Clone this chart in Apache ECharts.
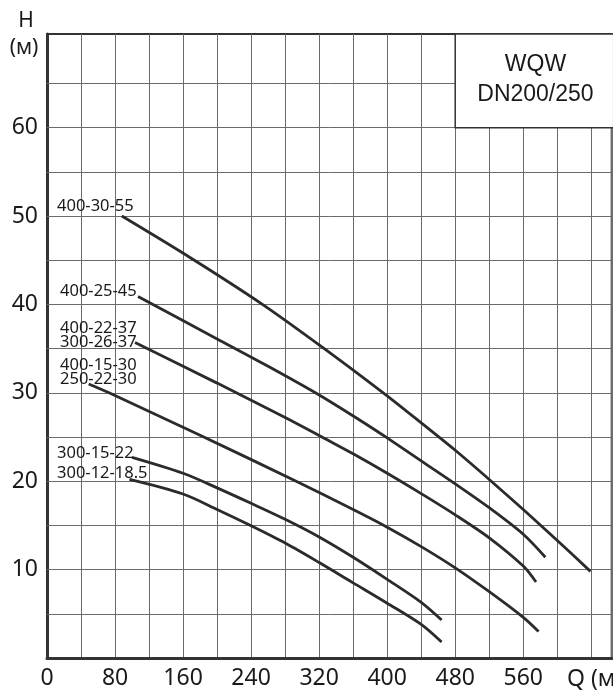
<!DOCTYPE html>
<html>
<head>
<meta charset="utf-8">
<script src="https://cdn.jsdelivr.net/npm/echarts@6/dist/echarts.min.js"></script>
<style>html,body{margin:0;padding:0;background:#fff}#c{width:613px;height:692px}</style>
</head>
<body>
<div id="c"></div>
<script>
// ---- data ----
const q1 = [88,170,255,326,398,440,480,520,560,600,639];
const h1 = [50,45.2,39.9,35,29.8,26.6,23.5,20.2,16.8,13.3,9.8];
const q2 = [107,200,260,321,368,400,440,480,520,560,586];
const h2 = [40.9,36.1,33.0,29.7,26.9,24.9,22.3,19.7,17.0,14.0,11.4];
const q3 = [103.5,200,280,333,360,400,440,480,520,560,575];
const h3 = [35.7,31.1,27.2,24.5,23.1,20.9,18.6,16.2,13.6,10.4,8.6];
const q4 = [49,73,180,293,360,400,440,480,520,560,578];
const h4 = [31.0,30.0,25.2,20.0,16.8,14.8,12.6,10.2,7.5,4.6,3.0];
const q5 = [100,160,200,240,280,320,360,400,440,464];
const h5 = [22.7,20.9,19.25,17.5,15.7,13.7,11.4,8.9,6.3,4.3];
const q6 = [97,160,200,240,280,320,360,400,440,464];
const h6 = [20.2,18.55,16.8,14.95,13.0,10.8,8.5,6.2,3.8,1.8];
const curveNames = ['400-30-55','400-25-45','400-22-37\n300-26-37','400-15-30\n250-22-30','300-15-22','300-12-18.5'];
const xTicks = [0,80,160,240,320,400,480,560];
const yTicks = [10,20,30,40,50,60];
const yGrid = [5,10,15,20,25,30,35,40,45,50,55,60,65];
const titleLines = ['WQW','DN200/250'];
const yName = ['H','(м)'];
const xName = 'Q (м³/ч)';

// ---- layout ----
const X_MAX = 664, Y_MAX = 70.6;
const labelPos = [[57,206],[60,291],[60,335],[60,372],[57,453],[57,473]];
const LINE = '#2b2b2b';
const GRIDC = '#6a6a6a';
const FONT = '"Noto Sans", sans-serif';

const chart = echarts.init(document.getElementById('c'), null, {renderer:'canvas'});
const zip = (a,b)=>a.map((v,i)=>[v,b[i]]);
const qs=[q1,q2,q3,q4,q5,q6], hs=[h1,h2,h3,h4,h5,h6];

const series = qs.map((q,i)=>({
  type:'line', name:curveNames[i], data:zip(q,hs[i]), smooth:0.3, symbol:'none',
  lineStyle:{color:LINE,width:2.8}, z:5, silent:true
}));
series.push({
  type:'line', data:[], silent:true, z:1,
  markLine:{silent:true, symbol:'none', label:{show:false},
    lineStyle:{color:GRIDC,width:1,type:'solid'},
    data: yGrid.map(v=>({yAxis:v}))}
});

chart.setOption({
  animation:false,
  grid:{left:47,right:1.3,top:34,bottom:34,containLabel:false,outerBoundsMode:'none',
        show:true,borderColor:'#333',borderWidth:2},
  xAxis:{type:'value',min:0,max:X_MAX,interval:40,
    axisLine:{show:true,onZero:false,lineStyle:{color:'#333',width:3}},
    axisTick:{show:false},
    splitLine:{show:true,lineStyle:{color:GRIDC,width:1}},
    axisLabel:{margin:9,color:'#1a1a1a',fontSize:23,fontFamily:FONT,
      showMaxLabel:false,
      formatter:v=>xTicks.indexOf(v)>=0?String(v):''}},
  yAxis:{type:'value',min:0,max:Y_MAX,interval:5,
    axisLine:{show:true,onZero:false,lineStyle:{color:'#333',width:3}},
    axisTick:{show:false},
    splitLine:{show:false},
    axisLabel:{margin:9,color:'#1a1a1a',fontSize:23,fontFamily:FONT,
      showMaxLabel:false,
      formatter:v=>yTicks.indexOf(v)>=0?String(v):''}},
  series:series
});

const tl = chart.convertToPixel({gridIndex:0},[480,Y_MAX]);
const br = chart.convertToPixel({gridIndex:0},[X_MAX,60]);
const graphics = [
  {type:'rect',z:20,shape:{x:tl[0],y:tl[1],width:br[0]-tl[0]+2,height:br[1]-tl[1]},
   style:{fill:'#fff',stroke:'#333',lineWidth:1.5}},
  {type:'text',z:21,x:(tl[0]+br[0])/2+2,y:65,style:{text:titleLines[0],font:'23px "Liberation Sans", Arial, sans-serif',fill:'#1a1a1a',textAlign:'center',textVerticalAlign:'middle'}},
  {type:'text',z:21,x:(tl[0]+br[0])/2+2,y:95,style:{text:titleLines[1],font:'23px "Liberation Sans", Arial, sans-serif',fill:'#1a1a1a',textAlign:'center',textVerticalAlign:'middle'}},
  {type:'text',z:21,x:26,y:21,style:{text:yName[0],font:'21px '+FONT,fill:'#1a1a1a',textAlign:'center',textVerticalAlign:'middle'}},
  {type:'text',z:21,x:24,y:48,style:{text:yName[1],font:'21px '+FONT,fill:'#1a1a1a',textAlign:'center',textVerticalAlign:'middle'}},
  {type:'text',z:21,x:567,y:679,style:{text:xName,font:'23px '+FONT,fill:'#1a1a1a',textAlign:'left',textVerticalAlign:'middle'}}
];
curveNames.forEach((t,i)=>{
  graphics.push({type:'text',z:21,x:labelPos[i][0],y:labelPos[i][1],
    style:{text:t,font:'16.5px '+FONT,lineHeight:14,fill:'#1a1a1a',textAlign:'left',textVerticalAlign:'middle'}});
});
chart.setOption({graphic:graphics});
</script>
</body>
</html>
